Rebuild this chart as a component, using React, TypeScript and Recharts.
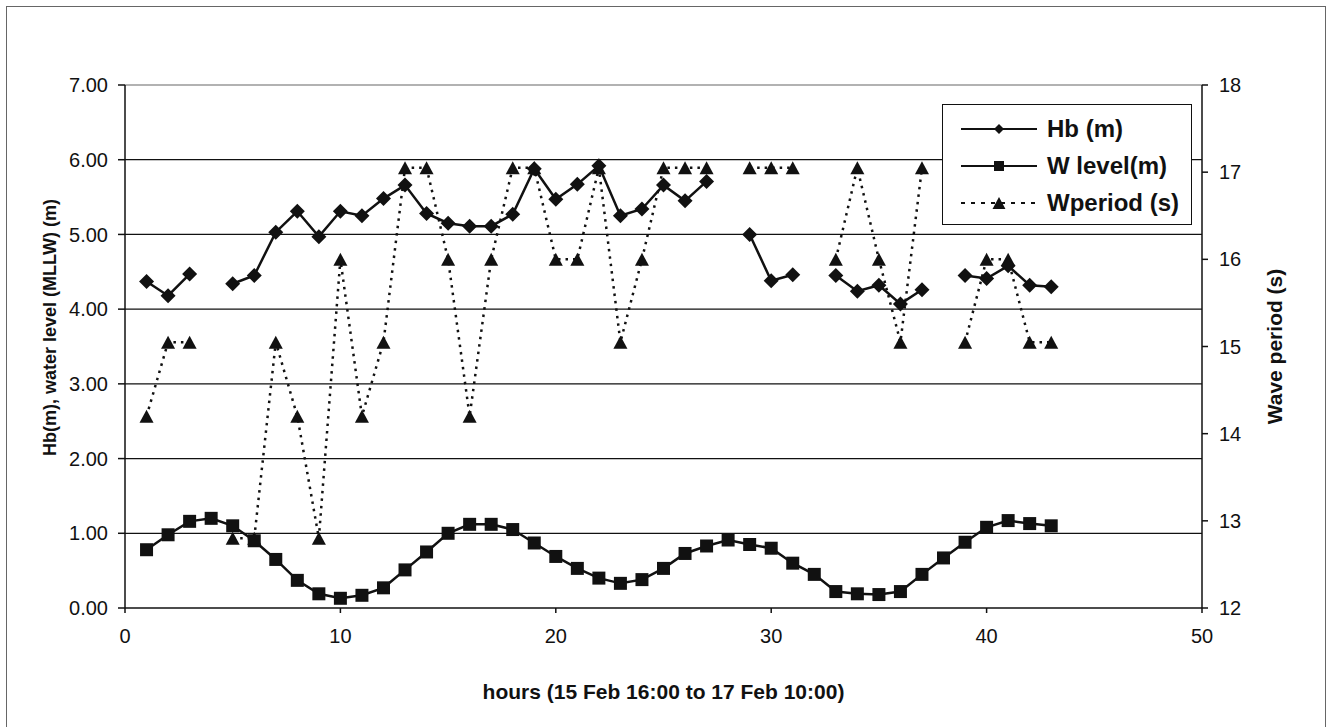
import React from "react";
import {
  ComposedChart,
  Line,
  XAxis,
  YAxis,
  CartesianGrid,
  ReferenceLine,
  Legend,
} from "recharts";

// hours since 15 Feb 16:00
const hours = [
  1, 2, 3, 4, 5, 6, 7, 8, 9, 10, 11, 12, 13, 14, 15, 16, 17, 18, 19, 20, 21,
  22, 23, 24, 25, 26, 27, 28, 29, 30, 31, 32, 33, 34, 35, 36, 37, 38, 39, 40,
  41, 42, 43,
];

// breaking wave height (m), left axis
const hb = [
  4.37, 4.18, 4.47, null, 4.34, 4.45, 5.03, 5.31, 4.97, 5.31,
  5.25, 5.48, 5.66, 5.28, 5.15, 5.11, 5.11, 5.27, 5.88, 5.47,
  5.67, 5.92, 5.25, 5.34, 5.66, 5.45, 5.71, null, 5.0, 4.38,
  4.46, null, 4.45, 4.24, 4.32, 4.07, 4.26, null, 4.45, 4.41,
  4.58, 4.32, 4.3,
];

// water level (m, MLLW), left axis
const wLevel = [
  0.78, 0.98, 1.16, 1.2, 1.1, 0.9, 0.65, 0.37, 0.19, 0.13,
  0.17, 0.27, 0.51, 0.75, 1.0, 1.12, 1.12, 1.05, 0.87, 0.69,
  0.53, 0.4, 0.33, 0.38, 0.53, 0.73, 0.83, 0.91, 0.85, 0.8,
  0.6, 0.45, 0.22, 0.19, 0.18, 0.22, 0.45, 0.67, 0.88, 1.08,
  1.17, 1.13, 1.1,
];

// wave period (s), right axis
const wPeriod = [
  14.2, 15.05, 15.05, null, 12.8, 12.8, 15.05, 14.2, 12.8, 16,
  14.2, 15.05, 17.05, 17.05, 16, 14.2, 16, 17.05, 17.05, 16,
  16, 17.05, 15.05, 16, 17.05, 17.05, 17.05, null, 17.05, 17.05,
  17.05, null, 16, 17.05, 16, 15.05, 17.05, null, 15.05, 16,
  16, 15.05, 15.05,
];

const xTicks = [0, 10, 20, 30, 40, 50];
const leftTicks = [0, 1, 2, 3, 4, 5, 6, 7];
const rightTicks = [12, 13, 14, 15, 16, 17, 18];
const gridValues = [1, 2, 3, 4, 5, 6];

const series = [
  { key: "hb", name: "Hb (m)", marker: "diamond", dashed: false },
  { key: "wl", name: "W level(m)", marker: "square", dashed: false },
  { key: "wp", name: "Wperiod (s)", marker: "triangle", dashed: true },
];

const data = hours.map((h, i) => ({
  hour: h,
  hb: hb[i],
  wl: wLevel[i],
  wp: wPeriod[i],
}));

const FONT = '"Liberation Sans", Arial, Helvetica, sans-serif';
const INK = "#111";

const markerPath = (shape: string, cx: number, cy: number, s: number) => {
  if (shape === "diamond") {
    return `M${cx},${cy - s} L${cx + s},${cy} L${cx},${cy + s} L${cx - s},${cy} Z`;
  }
  if (shape === "square") {
    return `M${cx - s},${cy - s} H${cx + s} V${cy + s} H${cx - s} Z`;
  }
  return `M${cx},${cy - s} L${cx + s * 1.08},${cy + s} L${cx - s * 1.08},${cy + s} Z`;
};

const makeDot = (shape: string, size: number) => (props: any) => {
  const { cx, cy, index } = props;
  if (cx == null || cy == null || isNaN(cy) || props.value == null) {
    return <g key={`${shape}-${index}`} />;
  }
  return <path key={`${shape}-${index}`} d={markerPath(shape, cx, cy, size)} fill={INK} />;
};

const LegendBox = () => (
  <div
    style={{
      border: `1.5px solid ${INK}`,
      background: "#fff",
      width: 250,
      height: 121,
      boxSizing: "border-box",
      padding: "5px 0 0 18px",
      fontFamily: FONT,
    }}
  >
    {series.map((s) => (
      <div key={s.key} style={{ display: "flex", alignItems: "center", height: 37 }}>
        <svg width={78} height={20} style={{ marginRight: 8 }}>
          <line
            x1={0}
            x2={76}
            y1={10}
            y2={10}
            stroke={INK}
            strokeWidth={2}
            strokeDasharray={s.dashed ? "4 6" : undefined}
          />
          <path d={markerPath(s.marker, 38, 10, s.marker === "triangle" ? 6 : 5)} fill={INK} />
        </svg>
        <span style={{ fontSize: 24, fontWeight: 700, color: INK }}>{s.name}</span>
      </div>
    ))}
  </div>
);

const xLabel = (props: any) => {
  const vb = props.viewBox;
  return (
    <text
      x={vb.x + vb.width / 2}
      y={vb.y + 91}
      textAnchor="middle"
      fontFamily={FONT}
      fontSize={21}
      fontWeight={700}
      fill={INK}
    >
      hours (15 Feb 16:00 to 17 Feb 10:00)
    </text>
  );
};

const leftLabel = (props: any) => {
  const vb = props.viewBox;
  const cx = vb.x - 15;
  const cy = vb.y + vb.height / 2 - 19;
  return (
    <text
      x={cx}
      y={cy}
      transform={`rotate(-90, ${cx}, ${cy})`}
      textAnchor="middle"
      dominantBaseline="central"
      fontFamily={FONT}
      fontSize={18}
      fontWeight={700}
      fill={INK}
    >
      Hb(m), water level (MLLW) (m)
    </text>
  );
};

const rightLabel = (props: any) => {
  const vb = props.viewBox;
  const cx = vb.x + 72;
  const cy = vb.y + vb.height / 2;
  return (
    <text
      x={cx}
      y={cy}
      transform={`rotate(-90, ${cx}, ${cy})`}
      textAnchor="middle"
      dominantBaseline="central"
      fontFamily={FONT}
      fontSize={21}
      fontWeight={700}
      fill={INK}
    >
      Wave period (s)
    </text>
  );
};

const tickStyle = { fontFamily: FONT, fontSize: 20, fill: INK };

export default function App() {
  return (
    <div
      style={{
        position: "absolute",
        left: 0,
        top: 0,
        width: 1330,
        height: 727,
        background: "#fff",
        overflow: "hidden",
      }}
    >
      <div
        style={{
          position: "absolute",
          left: 6,
          top: 6,
          width: 1318,
          height: 740,
          border: "1.5px solid #666",
          pointerEvents: "none",
        }}
      />
      <ComposedChart
        width={1330}
        height={727}
        data={data}
        margin={{ top: 85, right: 68, left: 65, bottom: 89 }}
      >
        <CartesianGrid
          yAxisId="left"
          vertical={false}
          horizontalValues={gridValues}
          stroke={INK}
          strokeWidth={1.3}
        />
        <ReferenceLine yAxisId="left" y={7} stroke="#999" strokeWidth={1.3} />
        <XAxis
          dataKey="hour"
          type="number"
          domain={[0, 50]}
          ticks={xTicks}
          height={30}
          tickSize={5}
          tickMargin={16}
          tick={tickStyle}
          stroke={INK}
          strokeWidth={1.5}
          label={{ content: xLabel }}
        />
        <YAxis
          yAxisId="left"
          domain={[0, 7]}
          ticks={leftTicks}
          tickFormatter={(v: number) => v.toFixed(2)}
          width={60}
          tickSize={7}
          tickMargin={10}
          tick={tickStyle}
          stroke={INK}
          strokeWidth={1.5}
          label={{ content: leftLabel }}
        />
        <YAxis
          yAxisId="right"
          orientation="right"
          domain={[12, 18]}
          ticks={rightTicks}
          width={60}
          tickSize={6}
          tickMargin={11}
          tick={tickStyle}
          stroke={INK}
          strokeWidth={1.5}
          label={{ content: rightLabel }}
        />
        <Legend
          layout="vertical"
          align="center"
          verticalAlign="middle"
          content={() => <LegendBox />}
          wrapperStyle={{ left: 942, top: 104, width: 250, height: 121 }}
        />
        <Line
          yAxisId="right"
          dataKey="wp"
          name="Wperiod (s)"
          stroke={INK}
          strokeWidth={2.5}
          strokeDasharray="2.5 5"
          dot={makeDot("triangle", 6.5)}
          activeDot={false}
          connectNulls={false}
          isAnimationActive={false}
        />
        <Line
          yAxisId="left"
          dataKey="wl"
          name="W level(m)"
          stroke={INK}
          strokeWidth={2.5}
          dot={makeDot("square", 6.5)}
          activeDot={false}
          connectNulls={false}
          isAnimationActive={false}
        />
        <Line
          yAxisId="left"
          dataKey="hb"
          name="Hb (m)"
          stroke={INK}
          strokeWidth={2.5}
          dot={makeDot("diamond", 7.5)}
          activeDot={false}
          connectNulls={false}
          isAnimationActive={false}
        />
      </ComposedChart>
    </div>
  );
}
